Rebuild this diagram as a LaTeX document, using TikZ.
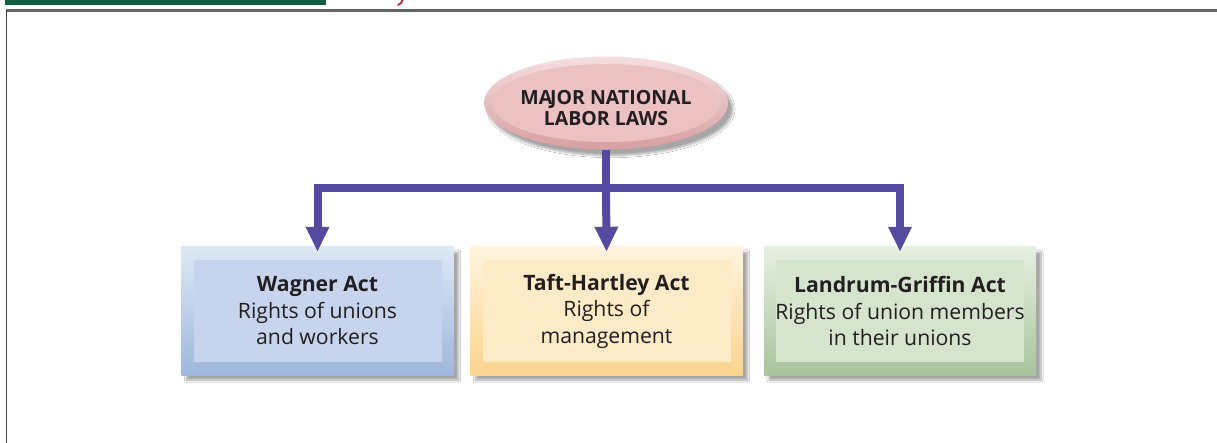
\documentclass[tikz,border=0pt]{standalone}
\usepackage{fontspec}
\setmainfont{Open Sans}
\usetikzlibrary{arrows.meta,shadows.blur,shapes.geometric,calc}
\definecolor{grn}{HTML}{0F5E3F}
\definecolor{redmark}{HTML}{B0262C}
\definecolor{frame}{HTML}{666666}
\definecolor{arrowc}{HTML}{5549A0}
\definecolor{txt}{HTML}{231F20}
\definecolor{pinkTop}{HTML}{F6DEDE}
\definecolor{pinkBot}{HTML}{D79FA1}
\definecolor{pinkIn}{HTML}{EBC1C2}
\definecolor{blueTop}{HTML}{DDE8F5}
\definecolor{blueBot}{HTML}{9FB7DD}
\definecolor{blueIn}{HTML}{C6D4EE}
\definecolor{yelTop}{HTML}{FEF4DF}
\definecolor{yelBot}{HTML}{FBD48E}
\definecolor{yelIn}{HTML}{FDEBC8}
\definecolor{grnTop}{HTML}{E7F0E3}
\definecolor{grnBot}{HTML}{A8C49C}
\definecolor{grnIn}{HTML}{D4E4CD}
\tikzset{
  outerbox/.style={rectangle, minimum width=272pt, minimum height=128pt, inner sep=0pt,
    blur shadow={shadow xshift=5pt, shadow yshift=-5pt, shadow blur steps=8, shadow opacity=35}},
  innerbox/.style={rectangle, minimum width=248pt, minimum height=101pt, inner sep=0pt},
  boxtext/.style={align=center, text=txt, font=\fontsize{21.2}{26.5}\selectfont},
  conn/.style={draw=arrowc, line width=8pt, line join=miter, shorten >=-5pt,
    -{Triangle[width=22pt,length=25pt]}},
  connline/.style={draw=arrowc, line width=8pt, line join=miter},
}
\begin{document}
\begin{tikzpicture}[x=1pt,y=-1pt]
\useasboundingbox (0,0) rectangle (1217,443);
\fill[white] (0,0) rectangle (1217,443);
% header fragments
\fill[grn] (5,0) rectangle (326,4.6);
\draw[redmark, line width=1.8pt, line cap=round] (402.5,0) .. controls (402,3) and (400.5,4.3) .. (398,4.8);
% frame
\draw[frame, line width=2.4pt] (6,10.4) -- (1217,10.4);
\draw[black!75, line width=1pt] (6.8,10) -- (6.8,443);

% top ellipse
\node[ellipse, minimum width=244pt, minimum height=93pt, inner sep=0pt,
  top color=pinkTop, bottom color=pinkBot,
  blur shadow={shadow xshift=5pt, shadow yshift=-6pt, shadow blur steps=8, shadow opacity=35}] (top) at (606,103) {};
\fill[pinkIn] (top.center) ellipse [x radius=114pt, y radius=39pt];
\node[align=center, text=txt, font=\bfseries\fontsize{19.5}{20.5}\selectfont] (toptext) at ($(top.center)+(0,5)$) {MA\kern-2pt JOR NATIONAL\\LABOR LAWS};

% boxes
\node[outerbox, top color=blueTop, bottom color=blueBot] (b1) at (317.5,311) {};
\node[innerbox, fill=blueIn] (i1) at (b1.center) {};
\node[boxtext] (t1) at (b1.center) {\textbf{Wagner Act}\\Rights of unions\\and workers};

\node[outerbox, top color=yelTop, bottom color=yelBot] (b2) at (606.5,311) {};
\node[innerbox, fill=yelIn] (i2) at (b2.center) {};
\node[boxtext] (t2) at (b2.center) {\textbf{Taft-Hartley Act}\\Rights of\\management};

\node[outerbox, top color=grnTop, bottom color=grnBot] (b3) at (900,311) {};
\node[innerbox, fill=grnIn] (i3) at (b3.center) {};
\node[boxtext] (t3) at (b3.center) {\textbf{Landrum-Griffin Act}\\Rights of union members\\in their unions};

% connectors
\coordinate (j) at (top.south |- 0,188);
\draw[connline] (top.south) -- (j);
\draw[conn] (j) -| (b1.north);
\draw[conn] (j) -- (b2.north);
\draw[conn] (j) -| (b3.north);
\end{tikzpicture}
\end{document}
